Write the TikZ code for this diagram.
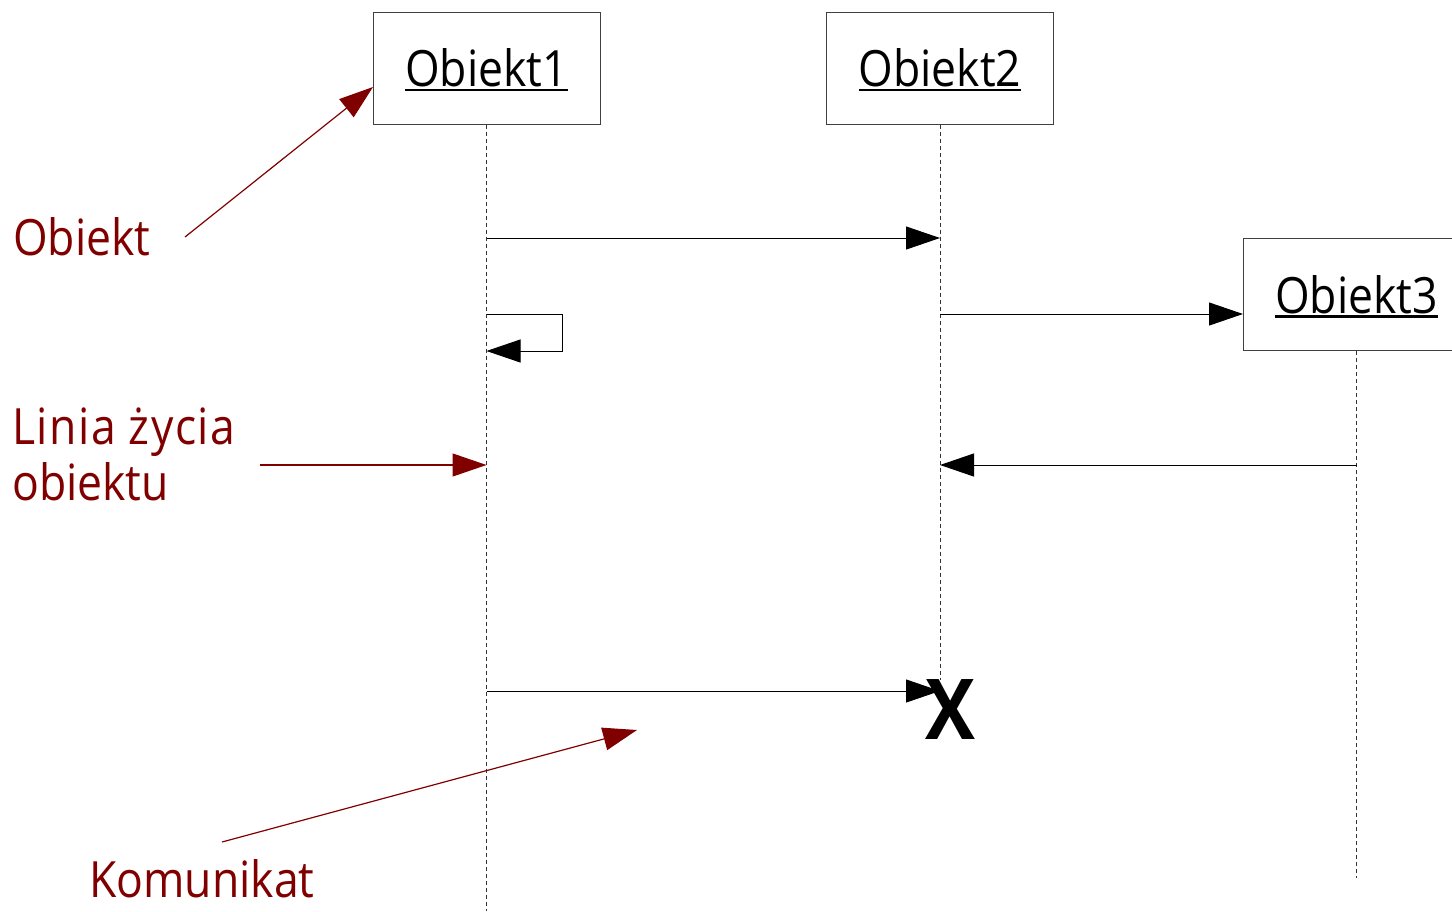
\documentclass[tikz,border=0pt]{standalone}
\usepackage{fontspec}
\setmainfont{Open Sans}[FakeStretch=0.89]
\usetikzlibrary{arrows.meta}
\definecolor{annot}{RGB}{128,0,0}
% underlined object name; the rule does not change the box depth
\newcommand\ulined[1]{\setbox0=\hbox{#1}\rlap{\smash{\rule[-4.5pt]{\wd0}{2.5pt}}}\box0}
\begin{document}
\begin{tikzpicture}[x=1pt,y=-1pt,
  obj/.style={draw=black!75, line width=1pt, fill=white, minimum width=227pt,
    minimum height=112pt, inner sep=0pt, font=\fontsize{50}{60}\selectfont},
  life/.style={draw=black!80, line width=0.9pt, dash pattern=on 4pt off 3pt},
  msg/.style={draw=black, line width=1pt, -{Triangle[length=34pt,width=23pt]}},
  note/.style={text=annot, font=\fontsize{50}{56}\selectfont, anchor=base west, inner sep=0pt},
  notearrow/.style={draw=annot, line width=1.2pt, -{Triangle[length=34pt,width=23pt]}}]
\useasboundingbox (0,0) rectangle (1452,911);
\clip (0,0) rectangle (1452,911);

% objects
\node[obj] (o1) at (486.5,68) {\ulined{Obiekt1}};
\node[obj] (o2) at (940,68) {\ulined{Obiekt2}};
\node[obj] (o3) at (1356.5,294.5) {\ulined{Obiekt3}};

% lifelines
\coordinate (l1end) at (486.5,911);
\coordinate (l2end) at (940,680);
\coordinate (l3end) at (1356.5,878);
\draw[life] (o1.south) -- (l1end);
\draw[life] (o2.south) -- (l2end);
\draw[life] (o3.south) -- (l3end);

% message points on the lifelines
\coordinate (a1) at (486.5,238);
\coordinate (b1) at (940,238);
\coordinate (b2) at (940,314);
\coordinate (c2) at (1243,314);
\coordinate (a3) at (486.5,314);
\coordinate (s1) at (562,314);
\coordinate (s2) at (562,351);
\coordinate (a4) at (486.5,351);
\coordinate (c5) at (1356.5,465);
\coordinate (b5) at (940,465);
\coordinate (a6) at (486.5,691);
\coordinate (b6) at (940,691);

% messages
\draw[msg] (a1) -- (b1);
\draw[msg] (b2) -- (c2);
\draw[msg] (a3) -- (s1) -- (s2) -- (a4);
\draw[msg] (c5) -- (b5);
\draw[msg] (a6) -- (b6);

% destruction of Obiekt2
\node[inner sep=0pt, font=\fontsize{84}{84}\selectfont\bfseries] (kill) at (950,710) {X};

% annotations
\node[note] (tObiekt) at (13,255) {Obiekt};
\node[note] (tLinia) at (12,444) {\addfontfeatures{LetterSpace=3}Linia życia};
\node[note] (tObiektu) at (12,500) {obiektu};
\node[note] (tKom) at (89,897) {Komunikat};

\coordinate (n1s) at (185,237);
\coordinate (n1e) at (373,87);
\coordinate (n2s) at (260,465);
\coordinate (n2e) at (486.5,465);
\coordinate (n3s) at (222,842);
\coordinate (n3e) at (637,730);
\draw[notearrow] (n1s) -- (n1e);
\draw[notearrow] (n2s) -- (n2e);
\draw[notearrow] (n3s) -- (n3e);
\end{tikzpicture}
\end{document}
